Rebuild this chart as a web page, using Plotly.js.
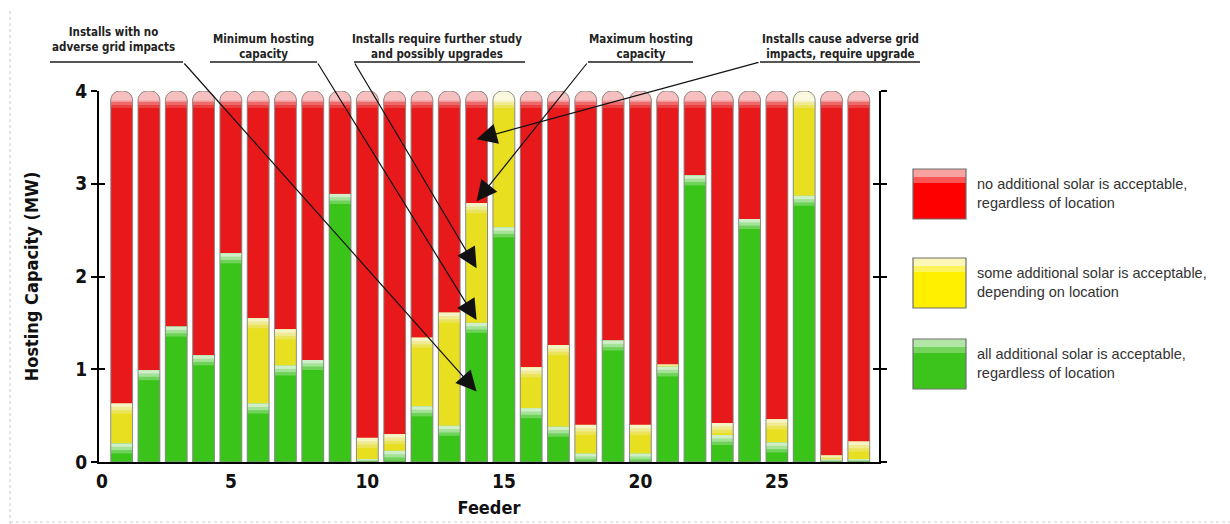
<!DOCTYPE html>
<html>
<head>
<meta charset="utf-8">
<script src="https://cdn.plot.ly/plotly-3.0.1.min.js"></script>
<style>
  html, body { margin: 0; padding: 0; background: #ffffff; }
  #chart { width: 1230px; height: 524px; }
</style>
</head>
<body>
<div id="chart"></div>
<script>
// ---------------- data ----------------
const feeders = [1, 2, 3, 4, 5, 6, 7, 8, 9, 10, 11, 12, 13, 14, 15, 16, 17, 18, 19, 20, 21, 22, 23, 24, 25, 26, 27, 28];
const greenMW  = [0.20, 0.99, 1.46, 1.15, 2.25, 0.63, 1.04, 1.10, 2.89, 0.03, 0.12, 0.60, 0.39, 1.50, 2.53, 0.58, 0.38, 0.09, 1.31, 0.09, 1.03, 3.09, 0.29, 2.62, 0.21, 2.87, 0.03, 0.03];
const yellowMW = [0.43, 0.00, 0.00, 0.00, 0.00, 0.92, 0.39, 0.00, 0.00, 0.23, 0.18, 0.74, 1.22, 1.29, 1.47, 0.44, 0.88, 0.31, 0.00, 0.31, 0.02, 0.00, 0.13, 0.00, 0.25, 1.13, 0.04, 0.19];
const redMW    = [3.37, 3.01, 2.54, 2.85, 1.75, 2.45, 2.57, 2.90, 1.11, 3.74, 3.70, 2.66, 2.39, 1.21, 0.00, 2.98, 2.74, 3.60, 2.69, 3.60, 2.95, 0.91, 3.58, 1.38, 3.54, 0.00, 3.93, 3.78];

const yTickVals = [0, 1, 2, 3, 4];
const xTickVals = [0.28, 5, 10, 15, 20, 25];
const xTickText = ['0', '5', '10', '15', '20', '25'];

const legendNames = [
  'no additional solar is acceptable,<br>regardless of location',
  'some additional solar is acceptable,<br>depending on location',
  'all additional solar is acceptable,<br>regardless of location'
];

const calloutText = [
  'Installs with no<br>adverse grid impacts',
  'Minimum hosting<br>capacity',
  'Installs require further study<br>and possibly upgrades',
  'Maximum hosting<br>capacity',
  'Installs cause adverse grid<br>impacts, require upgrade'
];
// feeder and MW value each callout arrow points to
const calloutFeeder = [14, 14, 14, 14, 14];
const calloutMW     = [0.76, 1.53, 2.09, 2.81, 3.48];

// ---------------- style ----------------
const W = 1230, H = 524;
const M = { l: 99, r: 351, t: 91, b: 62 };
const PW = W - M.l - M.r, PH = H - M.t - M.b;
const XR = [0.17, 28.74], YR = [0, 4];
const NARROW = '"Liberation Sans Narrow", "DejaVu Sans Condensed", "Liberation Sans", Arial, sans-serif';
const SANS = '"Liberation Sans", Arial, sans-serif';

const pal = {
  red:    { base: '#e8191b', c1: '#eb3e3e', c2: '#ee6a6a', c3: '#f29a9a', c4: '#f6c0c0' },
  yellow: { base: '#e7df1f', c1: '#ebe45a', c2: '#f0eb92', c3: '#f6f3c6', c4: '#faf8dd' },
  green:  { base: '#3ac41a', c1: '#6ed358', c2: '#a4e297', c3: '#d0efc9', c4: '#e2f5de' }
};
const legendPal = [
  { base: '#fe0000', hi: '#f8a2a2', mid: '#fb5555' },
  { base: '#fff000', hi: '#fbf7b8', mid: '#fdf35a' },
  { base: '#3cc41c', hi: '#b2e6a6', mid: '#74d45e' }
];

// pixel <-> data / paper helpers (for decorations only)
const dxPerPx = (XR[1] - XR[0]) / PW, dyPerPx = (YR[1] - YR[0]) / PH;
const pxToX = px => XR[0] + (px - M.l) * dxPerPx;
const pyToY = py => YR[0] + (M.t + PH - py) * dyPerPx;
const pxToPaper = px => (px - M.l) / PW;
const pyToPaper = py => (M.t + PH - py) / PH;

// ---------------- traces ----------------
const traces = [
  { type: 'bar', x: feeders, y: greenMW,  name: 'green',  marker: { color: pal.green.base,  line: { width: 0 } }, hoverinfo: 'x+y' },
  { type: 'bar', x: feeders, y: yellowMW, name: 'yellow', marker: { color: pal.yellow.base, line: { width: 0 } }, hoverinfo: 'x+y' },
  { type: 'bar', x: feeders, y: redMW,    name: 'red',    marker: { color: pal.red.base,    line: { width: 0 } }, hoverinfo: 'x+y' },
  { type: 'scatter', x: [feeders[0]], y: [0], yaxis: 'y2', mode: 'markers', marker: { opacity: 0 }, hoverinfo: 'skip', showlegend: false }
];

// ---------------- decorative shapes (gloss / rounded caps) ----------------
const shapes = [];
const halfW = 0.4;
const rPx = 9.5;
const rx = rPx * dxPerPx, ry = rPx * dyPerPx;
function roundTop(xl, xr, yb, T) {
  const k = 0.5523;
  return `M${xl},${yb} L${xl},${T - ry} C${xl},${T - ry + k * ry} ${xl + rx - k * rx},${T} ${xl + rx},${T} ` +
         `L${xr - rx},${T} C${xr - rx + k * rx},${T} ${xr},${T - ry + k * ry} ${xr},${T - ry} L${xr},${yb} Z`;
}
function rect(x0, x1, y0, y1, color) {
  shapes.push({ type: 'rect', xref: 'x', yref: 'y', x0, x1, y0, y1, fillcolor: color, line: { width: 0 }, layer: 'above' });
}
feeders.forEach((f, i) => {
  const xl = f - halfW, xr = f + halfW;
  const segs = [];
  let acc = 0;
  [['green', greenMW[i]], ['yellow', yellowMW[i]], ['red', redMW[i]]].forEach(([c, v]) => {
    if (v > 0) segs.push({ c, b: acc, t: acc + v });
    acc += v;
  });
  const T = acc;
  segs.forEach((s, j) => {
    const p = pal[s.c];
    if (j < segs.length - 1) {
      const h = Math.min(10 * dyPerPx, s.t - s.b);
      rect(xl, xr, s.t - h, s.t, p.c1);
      rect(xl, xr, s.t - h * 0.66, s.t, p.c2);
      rect(xl, xr, s.t - h * 0.33, s.t, p.c3);
    } else {
      shapes.push({ type: 'rect', xref: 'x', yref: 'y', x0: xl - 0.02, x1: xr + 0.02, y0: T - ry, y1: T + 0.01,
                    fillcolor: '#ffffff', line: { width: 0 }, layer: 'above' });
      [[17, p.c1], [14, p.c2], [11, p.c3], [rPx, p.c4]].forEach(([hpx, col]) => {
        shapes.push({ type: 'path', xref: 'x', yref: 'y', path: roundTop(xl, xr, T - hpx * dyPerPx, T),
                      fillcolor: col, line: { width: 0 }, layer: 'above' });
      });
    }
  });
  shapes.push({ type: 'path', xref: 'x', yref: 'y', path: roundTop(xl, xr, 0, T),
                fillcolor: 'rgba(0,0,0,0)', line: { color: '#8c8c8c', width: 1 }, layer: 'above' });
});

// legend swatches
const swatchTop = [169, 258, 339];
const swatchH = 50;
legendPal.forEach((p, i) => {
  const y0 = swatchTop[i], y1 = y0 + swatchH;
  const xp0 = pxToPaper(913), xp1 = pxToPaper(966);
  shapes.push({ type: 'rect', xref: 'paper', yref: 'paper', x0: xp0, x1: xp1, y0: pyToPaper(y1), y1: pyToPaper(y0), fillcolor: p.base, line: { width: 0 } });
  shapes.push({ type: 'rect', xref: 'paper', yref: 'paper', x0: xp0, x1: xp1, y0: pyToPaper(y0 + 14), y1: pyToPaper(y0), fillcolor: p.mid, line: { width: 0 } });
  shapes.push({ type: 'rect', xref: 'paper', yref: 'paper', x0: xp0, x1: xp1, y0: pyToPaper(y0 + 8), y1: pyToPaper(y0), fillcolor: p.hi, line: { width: 0 } });
  shapes.push({ type: 'rect', xref: 'paper', yref: 'paper', x0: xp0, x1: xp1, y0: pyToPaper(y1), y1: pyToPaper(y0), fillcolor: 'rgba(0,0,0,0)', line: { color: '#6e6e6e', width: 1.2 } });
});

// callout underlines
const underline = [[50, 183], [210, 317], [354, 525], [588, 693], [760, 920]];
const tailEnd = [1, 1, 0, 0, 0]; // which end of the underline the arrow leaves from
underline.forEach(([a, b]) => {
  shapes.push({ type: 'line', xref: 'paper', yref: 'paper', x0: pxToPaper(a), x1: pxToPaper(b), y0: pyToPaper(62), y1: pyToPaper(62), line: { color: '#555555', width: 2 } });
});

// page border (dotted) like the source page
shapes.push({ type: 'line', xref: 'paper', yref: 'paper', x0: pxToPaper(10), x1: pxToPaper(10), y0: pyToPaper(524), y1: pyToPaper(8), line: { color: '#c8c8c8', width: 1, dash: 'dot' } });
shapes.push({ type: 'line', xref: 'paper', yref: 'paper', x0: pxToPaper(10), x1: pxToPaper(1230), y0: pyToPaper(522), y1: pyToPaper(522), line: { color: '#d0d0d0', width: 1, dash: 'dot' } });

// ---------------- annotations ----------------
const annotations = [];
const calloutCenter = [[113, 40], [263, 46], [437, 46], [641, 46], [840, 46]];
calloutText.forEach((t, i) => {
  annotations.push({ xref: 'paper', yref: 'paper', x: pxToPaper(calloutCenter[i][0]), y: pyToPaper(calloutCenter[i][1]),
    xanchor: 'center', yanchor: 'middle', text: t, showarrow: false, align: 'center',
    font: { family: NARROW, size: 11.5, color: '#222222', weight: 'bold' } });
  const tailPx = underline[i][tailEnd[i]];
  annotations.push({ xref: 'x', yref: 'y', x: calloutFeeder[i], y: calloutMW[i],
    axref: 'x', ayref: 'y', ax: pxToX(tailPx), ay: pyToY(62), text: '', showarrow: true,
    arrowhead: 2, arrowsize: 3.4, arrowwidth: 1.2, arrowcolor: '#111111', standoff: 0 });
});
const legendTextY = [193, 282, 363];
legendNames.forEach((t, i) => {
  annotations.push({ xref: 'paper', yref: 'paper', x: pxToPaper(975), y: pyToPaper(legendTextY[i]),
    xanchor: 'left', yanchor: 'middle', align: 'left', text: t, showarrow: false,
    font: { family: SANS, size: 14.5, color: '#333333' } });
});

// ---------------- layout ----------------
const layout = {
  width: W, height: H,
  margin: M,
  paper_bgcolor: '#ffffff', plot_bgcolor: '#ffffff',
  barmode: 'stack', bargap: 0.2,
  showlegend: false,
  xaxis: {
    range: XR, tickvals: xTickVals, ticktext: xTickText, ticks: '',
    showline: true, linecolor: '#000000', linewidth: 2, mirror: false,
    showgrid: false, zeroline: false, ticklabelstandoff: 1,
    tickfont: { family: NARROW, size: 19, color: '#111111', weight: 'bold' },
    title: { text: 'Feeder', standoff: 11, font: { family: NARROW, size: 18, color: '#111111', weight: 'bold' } }
  },
  yaxis: {
    range: YR, tickvals: yTickVals, ticks: 'outside', ticklen: 6, tickwidth: 2, tickcolor: '#000000',
    showline: true, linecolor: '#000000', linewidth: 2, mirror: 'ticks',
    showgrid: false, zeroline: false,
    tickfont: { family: NARROW, size: 19, color: '#111111', weight: 'bold' },
    title: { text: 'Hosting Capacity (MW)', standoff: 32, font: { family: NARROW, size: 18, color: '#111111', weight: 'bold' } }
  },
  yaxis2: {
    overlaying: 'y', range: YR, tickvals: yTickVals, ticks: 'inside', ticklen: 6, tickwidth: 2, tickcolor: '#000000',
    showline: false, mirror: 'ticks', showticklabels: false, showgrid: false, zeroline: false
  },
  shapes, annotations
};

Plotly.newPlot('chart', traces, layout, { displayModeBar: false, staticPlot: true });
</script>
</body>
</html>
